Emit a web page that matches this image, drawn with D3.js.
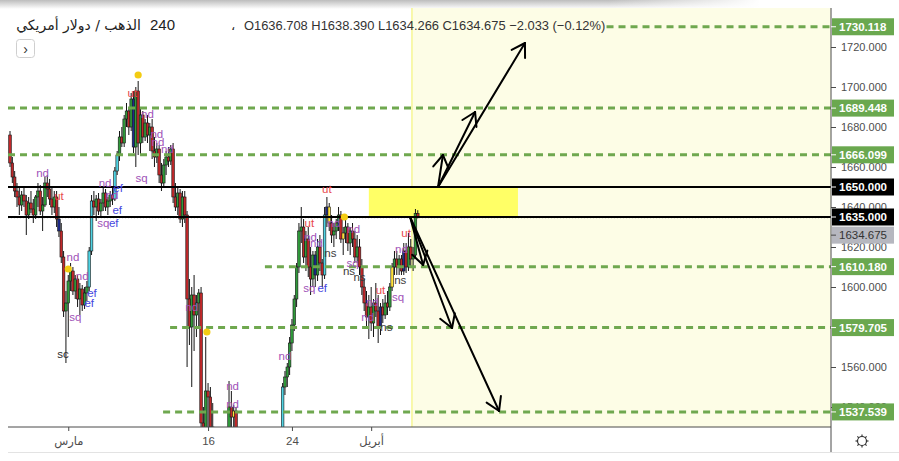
<!DOCTYPE html>
<html>
<head>
<meta charset="utf-8">
<script src="https://cdn.jsdelivr.net/npm/d3@7"></script>
<style>
  body { margin: 0; background: #fff; }
  svg { display: block; font-family: "Liberation Sans", Arial, sans-serif; }
</style>
</head>
<body>
<svg id="chart" width="899" height="461"></svg>
<script>
// ---- XAU/USD 240-minute candles ----
const opens = [
  1676,1662,1655,1648,1645,1641,1646,1643,1636,1642, 1639,1636,1645,1648,1638,1641,1652,1649,1644,1640,
  1645,1634,1628,1615,1588,1592,1603,1608,1598,1604, 1594,1599,1591,1597,1600,1618,1643,1640,1644,1638,
  1642,1647,1640,1643,1646,1644,1658,1666,1675,1672, 1684,1688,1680,1694,1670,1698,1672,1686,1675,1682,
  1676,1680,1668,1665,1669,1656,1652,1661,1665,1663, 1669,1645,1640,1647,1634,1645,1636,1594,1580,1596,
  1586,1592,1597,1532,1515,1548,1545,1530,1520,1488, 1498,1486,1496,1512,1522,1540,1535,1538,1505,1490,
  1472,1478,1486,1474,1462,1470,1486,1496,1502,1484, 1492,1488,1478,1486,1494,1500,1508,1516,1550,1555,
  1560,1572,1581,1594,1610,1628,1630,1615,1624,1610, 1604,1616,1606,1620,1612,1606,1636,1640,1632,1626,
  1628,1632,1636,1624,1627,1630,1622,1628,1624,1615, 1620,1610,1600,1592,1585,1590,1582,1592,1588,1580,
  1590,1586,1592,1590,1600,1610,1614,1610,1614,1608, 1618,1610,1620,1614,1616,1636.708
];
const highs = [
  1678,1665,1658,1652,1650,1648,1650,1646,1645,1648, 1644,1646,1652,1651,1645,1655,1656,1654,1650,1648,
  1648,1640,1632,1618,1598,1606,1612,1610,1606,1606, 1602,1601,1600,1603,1620,1646,1648,1646,1647,1644,
  1650,1649,1645,1648,1650,1660,1668,1678,1680,1686, 1692,1690,1697,1698,1700,1703,1690,1688,1684,1686,
  1682,1684,1675,1672,1671,1662,1664,1668,1670,1671, 1672,1652,1650,1649,1648,1648,1638,1604,1600,1606,
  1596,1599,1600,1540,1575,1552,1550,1542,1528,1505, 1512,1502,1518,1526,1553,1548,1541,1540,1512,1498,
  1485,1492,1494,1480,1476,1490,1500,1510,1506,1496, 1500,1494,1490,1498,1505,1512,1520,1552,1558,1562,
  1575,1584,1596,1612,1632,1640,1634,1628,1630,1620, 1618,1618,1624,1626,1614,1640,1645,1642,1636,1632,
  1634,1640,1638,1630,1634,1632,1630,1632,1628,1626, 1624,1614,1604,1598,1596,1600,1594,1602,1596,1592,
  1594,1596,1598,1602,1612,1618,1618,1616,1616,1622, 1622,1627,1624,1620,1639,1638.390
];
const lows = [
  1660,1652,1645,1640,1636,1638,1640,1626,1634,1637, 1632,1634,1640,1636,1628,1640,1645,1641,1636,1637,
  1630,1625,1612,1585,1562,1575,1598,1596,1594,1590, 1586,1588,1589,1593,1598,1616,1636,1633,1636,1635,
  1638,1638,1636,1640,1641,1643,1656,1663,1670,1670, 1680,1676,1678,1667,1660,1666,1666,1672,1673,1672,
  1668,1664,1660,1662,1652,1648,1650,1656,1660,1661, 1642,1638,1636,1632,1630,1632,1560,1571,1550,1568,
  1575,1580,1525,1505,1510,1528,1520,1508,1480,1470, 1482,1472,1490,1505,1518,1528,1526,1500,1485,1465,
  1455,1466,1470,1452,1451,1466,1480,1488,1480,1476, 1482,1474,1470,1480,1488,1494,1502,1512,1546,1550,
  1556,1568,1578,1590,1607,1622,1612,1608,1605,1596, 1600,1600,1603,1608,1600,1604,1630,1628,1622,1620,
  1624,1628,1622,1616,1622,1618,1616,1620,1612,1612, 1606,1596,1588,1580,1574,1578,1575,1585,1572,1576,
  1582,1584,1586,1588,1598,1606,1606,1606,1606,1606, 1607,1608,1610,1608,1614,1634.266
];
const closes = [
  1662,1655,1648,1645,1641,1646,1643,1636,1642,1639, 1636,1645,1648,1638,1641,1652,1649,1644,1640,1645,
  1634,1628,1615,1588,1592,1603,1608,1598,1604,1594, 1599,1591,1597,1600,1618,1643,1640,1644,1638,1642,
  1647,1640,1643,1646,1644,1658,1666,1675,1672,1684, 1688,1680,1694,1670,1698,1672,1686,1675,1682,1676,
  1680,1668,1665,1669,1656,1652,1661,1665,1663,1669, 1645,1640,1647,1634,1645,1636,1594,1580,1596,1586,
  1592,1597,1532,1515,1548,1545,1530,1520,1488,1498, 1486,1496,1512,1522,1540,1535,1538,1505,1490,1472,
  1478,1486,1474,1462,1470,1486,1496,1502,1484,1492, 1488,1478,1486,1494,1500,1508,1516,1550,1555,1560,
  1572,1581,1594,1610,1628,1630,1615,1624,1610,1604, 1616,1606,1620,1612,1606,1636,1640,1632,1626,1628,
  1632,1636,1624,1627,1630,1622,1628,1624,1615,1620, 1610,1600,1592,1585,1590,1582,1592,1588,1580,1590,
  1586,1592,1590,1600,1610,1614,1610,1614,1608,1618, 1610,1620,1614,1616,1636.708,1634.675
];

// bars flagged by the volume-spread indicator
const effortUpBars = [34, 35, 45, 46, 117, 135];
const strengthBars = [21, 53, 131, 136, 159, 169];
const testBars = [96, 137, 143, 164];

// indicator signal labels: [bar index, price, code]
const signals = [
  [14, 1657, "nd"], [21, 1645.5, "ut"], [22.7, 1566.5, "sc"], [27, 1615, "nd"], [31, 1605.5, "nd"],
  [28, 1585, "sq"], [35.2, 1597, "ef"], [34, 1592, "ef"], [40.8, 1652, "nd"], [43.8, 1646, "nd"],
  [46.4, 1649.5, "ef"], [46, 1638.5, "ef"], [40, 1632, "sq"], [44.5, 1632, "ef"], [52.5, 1697, "ut"],
  [59, 1686.5, "nd"], [63, 1676.5, "nd"], [63.5, 1672.5, "nd"], [67.5, 1669, "nd"], [56.5, 1654.5, "sq"],
  [78, 1590, "nd"], [95.5, 1550.5, "nd"], [95.5, 1541.5, "nd"], [118, 1565.5, "nd"], [128.5, 1632, "ut"],
  [129, 1625, "nd"], [131.5, 1622, "nd"], [136, 1649, "ut"], [139, 1632, "nd"], [147.5, 1629, "nd"],
  [137.5, 1617, "ns"], [147, 1612, "sq"], [145.5, 1608, "ns"], [150, 1605, "ns"], [128.5, 1599.5, "sq"],
  [134, 1599.5, "ef"], [159, 1598.5, "ut"], [155.5, 1592.5, "nd"], [153.5, 1585, "nd"], [161.5, 1580, "ns"],
  [166.5, 1595, "sq"], [167.5, 1603.5, "ns"], [168, 1619, "nd"], [170, 1627, "ut"]
];
// swing markers: [bar index, price]
const swingDots = [[55, 1706], [25, 1609], [84.5, 1577.5], [143.5, 1635]];

// horizontal levels
const targetLevels = [1730.118, 1689.448, 1666.099, 1610.180, 1579.705, 1537.539];
const targetStarts = [256, -1, -1, 109.4, 68.7, 65.7];
const pivotLevels = [1650, 1635];
const lastPrice = 1634.675;

// zones and projections (bar index, price)
const resistanceZone = {from: 154, to: 218, low: 1635, high: 1650};
const forecastStart = 172.5;
const upOrigin = [183.7, 1650];
const upTargets = [[185.8, 1666], [199.6, 1687.5], [221, 1722]];
const downOrigin = [171.7, 1635];
const downTargets = [[177.3, 1611], [189.7, 1579.5], [209.9, 1538]];

// axes (1580 sits under the 1579.705 tag and is not labelled)
const priceTicks = [1720, 1700, 1680, 1660, 1640, 1620, 1600, 1560, 1540];
const timeTickBars = [25, 85, 121, 155];
const timeTickLabels = ["مارس", "16", "24", "أبريل"];

const symbolName = "الذهب / دولار أمريكي";
const interval = "240";
const ohlcText = "O1636.708 H1638.390 L1634.266 C1634.675 \u22122.033 (\u22120.12%)";

// ---- drawing ----
const svg = d3.select("#chart");
const P = {left: 8, right: 831, top: 8, bottom: 427};
const x = d3.scaleLinear().domain([0, 352]).range([10, 830.2]);
const y = d3.scaleLinear().domain([1530, 1740]).range([427, 7]);

const defs = svg.append("defs");
defs.append("clipPath").attr("id", "plotClip").append("rect")
  .attr("x", P.left).attr("y", P.top).attr("width", P.right - P.left).attr("height", P.bottom - P.top);
const shade = defs.append("linearGradient").attr("id", "topShade").attr("x1", 0).attr("y1", 0).attr("x2", 0).attr("y2", 1);
shade.append("stop").attr("offset", 0).attr("stop-color", "#bdbdbd");
shade.append("stop").attr("offset", 1).attr("stop-color", "#ffffff");
const shadeH = defs.append("linearGradient").attr("id", "shadeFade").attr("x1", 0).attr("y1", 0).attr("x2", 1).attr("y2", 0);
shadeH.append("stop").attr("offset", 0.8).attr("stop-color", "#fff").attr("stop-opacity", 0);
shadeH.append("stop").attr("offset", 1).attr("stop-color", "#fff").attr("stop-opacity", 1);

svg.append("rect").attr("width", 899).attr("height", 461).attr("fill", "#fff");
svg.append("rect").attr("x", 0).attr("y", 0).attr("width", 760).attr("height", 9).attr("fill", "url(#topShade)");
svg.append("rect").attr("x", 0).attr("y", 0).attr("width", 760).attr("height", 9).attr("fill", "url(#shadeFade)");

const plot = svg.append("g").attr("clip-path", "url(#plotClip)");

// forecast area
plot.append("rect")
  .attr("x", x(forecastStart)).attr("y", P.top)
  .attr("width", P.right - x(forecastStart)).attr("height", P.bottom - P.top)
  .attr("fill", "#fdfde6");
plot.append("line")
  .attr("x1", x(forecastStart)).attr("x2", x(forecastStart)).attr("y1", P.top).attr("y2", P.bottom)
  .attr("stroke", "#f4f47a").attr("stroke-width", 1.2);

// resistance zone
plot.append("rect")
  .attr("x", x(resistanceZone.from)).attr("width", x(resistanceZone.to) - x(resistanceZone.from))
  .attr("y", y(resistanceZone.high)).attr("height", y(resistanceZone.low) - y(resistanceZone.high))
  .attr("fill", "#ffff66");

// candles
const candles = opens.map((o, i) => ({i, o, h: highs[i], l: lows[i], c: closes[i]}));
const bodyColor = d => {
  if (effortUpBars.includes(d.i)) return "#4fd3e3";
  if (strengthBars.includes(d.i)) return "#1d2a8a";
  if (testBars.includes(d.i)) return "#ffe23a";
  return d.c >= d.o ? "#2f9a3a" : "#c0282a";
};
plot.append("g").selectAll("line").data(candles).join("line")
  .attr("x1", d => x(d.i)).attr("x2", d => x(d.i))
  .attr("y1", d => y(d.h)).attr("y2", d => y(d.l))
  .attr("stroke", "#151515").attr("stroke-width", 1);
plot.append("g").selectAll("rect").data(candles).join("rect")
  .attr("x", d => x(d.i) - 1.3).attr("width", 2.6)
  .attr("y", d => y(Math.max(d.o, d.c)))
  .attr("height", d => Math.max(1, Math.abs(y(d.o) - y(d.c))))
  .attr("fill", bodyColor).attr("stroke", "#151515").attr("stroke-width", 0.6);

// current price line
plot.append("line")
  .attr("x1", P.left).attr("x2", P.right).attr("y1", y(lastPrice)).attr("y2", y(lastPrice))
  .attr("stroke", "#666").attr("stroke-width", 1).attr("stroke-dasharray", "1,2");

// target levels
plot.append("g").selectAll("line").data(targetLevels).join("line")
  .attr("x1", (d, k) => Math.max(P.left, x(targetStarts[k]))).attr("x2", P.right)
  .attr("y1", d => y(d)).attr("y2", d => y(d))
  .attr("stroke", "#6fa84f").attr("stroke-width", 3).attr("stroke-dasharray", "7,5");

// pivot levels
plot.append("g").selectAll("line").data(pivotLevels).join("line")
  .attr("x1", P.left).attr("x2", P.right)
  .attr("y1", d => y(d)).attr("y2", d => y(d))
  .attr("stroke", "#000").attr("stroke-width", 2);

// signal labels
const signalColor = {nd: "#a052b8", sq: "#a052b8", ut: "#e8474a", ef: "#4747e0", ns: "#3c3c3c", sc: "#2a2a2a"};
plot.append("g").selectAll("text").data(signals).join("text")
  .attr("x", d => x(d[0])).attr("y", d => y(d[1]))
  .attr("text-anchor", "middle").attr("dominant-baseline", "central")
  .attr("font-size", 11.5).attr("fill", d => signalColor[d[2]])
  .text(d => d[2]);

// swing dots
plot.append("g").selectAll("circle").data(swingDots).join("circle")
  .attr("cx", d => x(d[0])).attr("cy", d => y(d[1])).attr("r", 3.6)
  .attr("fill", "#f3cc12");

// projection arrows
function arrow(g, from, to) {
  const x0 = x(from[0]), y0 = y(from[1]), x1 = x(to[0]), y1 = y(to[1]);
  g.append("line").attr("x1", x0).attr("y1", y0).attr("x2", x1).attr("y2", y1);
  const a = Math.atan2(y1 - y0, x1 - x0), len = 15, spread = 0.55;
  [a + Math.PI - spread, a + Math.PI + spread].forEach(b => {
    g.append("line").attr("x1", x1).attr("y1", y1)
      .attr("x2", x1 + len * Math.cos(b)).attr("y2", y1 + len * Math.sin(b));
  });
}
const arrows = plot.append("g").attr("stroke", "#000").attr("stroke-width", 2).attr("stroke-linecap", "round");
upTargets.forEach(t => arrow(arrows, upOrigin, t));
downTargets.forEach(t => arrow(arrows, downOrigin, t));

// ---- axes ----
svg.append("line").attr("x1", P.right).attr("x2", P.right).attr("y1", P.top).attr("y2", 452)
  .attr("stroke", "#4a4a4a").attr("stroke-width", 1);
svg.append("line").attr("x1", P.left).attr("x2", P.right).attr("y1", P.bottom).attr("y2", P.bottom)
  .attr("stroke", "#4a4a4a").attr("stroke-width", 1);
svg.append("line").attr("x1", P.left).attr("x2", 899).attr("y1", 452.5).attr("y2", 452.5)
  .attr("stroke", "#e3e3e3").attr("stroke-width", 1);

const yAxis = svg.append("g").attr("transform", `translate(${P.right},0)`)
  .call(d3.axisRight(y).tickValues(priceTicks).tickFormat(d3.format(".3f")).tickSize(5).tickPadding(5));
yAxis.select(".domain").remove();
yAxis.selectAll("line").attr("stroke", "#4a4a4a");
yAxis.selectAll("text").attr("font-size", 11).attr("fill", "#4d4d4d")
  .attr("font-family", "\"Liberation Sans\", Arial, sans-serif");

const xAxis = svg.append("g").attr("transform", `translate(0,${P.bottom})`)
  .call(d3.axisBottom(x).tickValues(timeTickBars).tickFormat((d, k) => timeTickLabels[k]).tickSize(4).tickPadding(6));
xAxis.select(".domain").remove();
xAxis.selectAll("line").attr("stroke", "#4a4a4a");
xAxis.selectAll("text").attr("font-size", 11.5).attr("fill", "#4d4d4d")
  .attr("font-family", "\"Liberation Sans\", \"DejaVu Sans\", sans-serif");

// price tags on the scale
function tag(price, fill, textFill, offset) {
  const cy = y(price) + (offset || 0);
  const g = svg.append("g");
  g.append("rect").attr("x", P.right + 1).attr("y", cy - 8.5).attr("width", 62).attr("height", 17).attr("fill", fill);
  g.append("line").attr("x1", P.right).attr("x2", P.right + 5).attr("y1", cy).attr("y2", cy).attr("stroke", textFill === "#fff" ? "#fff" : "#4a4a4a");
  g.append("text").attr("x", P.right + 8).attr("y", cy).attr("dominant-baseline", "central")
    .attr("font-size", 11.5).attr("font-weight", textFill === "#fff" ? "bold" : "normal")
    .attr("fill", textFill).text(d3.format(".3f")(price));
}
targetLevels.forEach(p => tag(p, "#6aa84f", "#fff"));
tag(1650, "#000", "#fff");
tag(lastPrice, "#b6b7bf", "#333", 17.5);
tag(1635, "#000", "#fff");

// settings icon
const gear = svg.append("g").attr("transform", "translate(862,441)").attr("stroke", "#333").attr("fill", "none").attr("stroke-width", 1.2);
gear.append("circle").attr("r", 4.5);
d3.range(8).forEach(k => {
  const a = k * Math.PI / 4;
  gear.append("line").attr("x1", 4.5 * Math.cos(a)).attr("y1", 4.5 * Math.sin(a))
    .attr("x2", 6.5 * Math.cos(a)).attr("y2", 6.5 * Math.sin(a));
});

// legend
const legend = svg.append("g").attr("fill", "#222");
legend.append("text").attr("x", 141).attr("y", 30).attr("text-anchor", "end")
  .attr("font-size", 14).attr("font-family", "\"DejaVu Sans\", sans-serif").text(symbolName);
legend.append("text").attr("x", 150).attr("y", 30).attr("font-size", 15).text(interval);
legend.append("text").attr("x", 231).attr("y", 30).attr("font-size", 13).text("،");
legend.append("text").attr("x", 244).attr("y", 30).attr("font-size", 12.9).attr("fill", "#333").text(ohlcText);
const btn = svg.append("g");
btn.append("rect").attr("x", 16.5).attr("y", 39.5).attr("width", 18).attr("height", 18).attr("rx", 3)
  .attr("fill", "#fff").attr("stroke", "#cfcfcf");
btn.append("text").attr("x", 25.5).attr("y", 49).attr("text-anchor", "middle").attr("dominant-baseline", "central")
  .attr("font-size", 14).attr("fill", "#333").text("›");
</script>
</body>
</html>
